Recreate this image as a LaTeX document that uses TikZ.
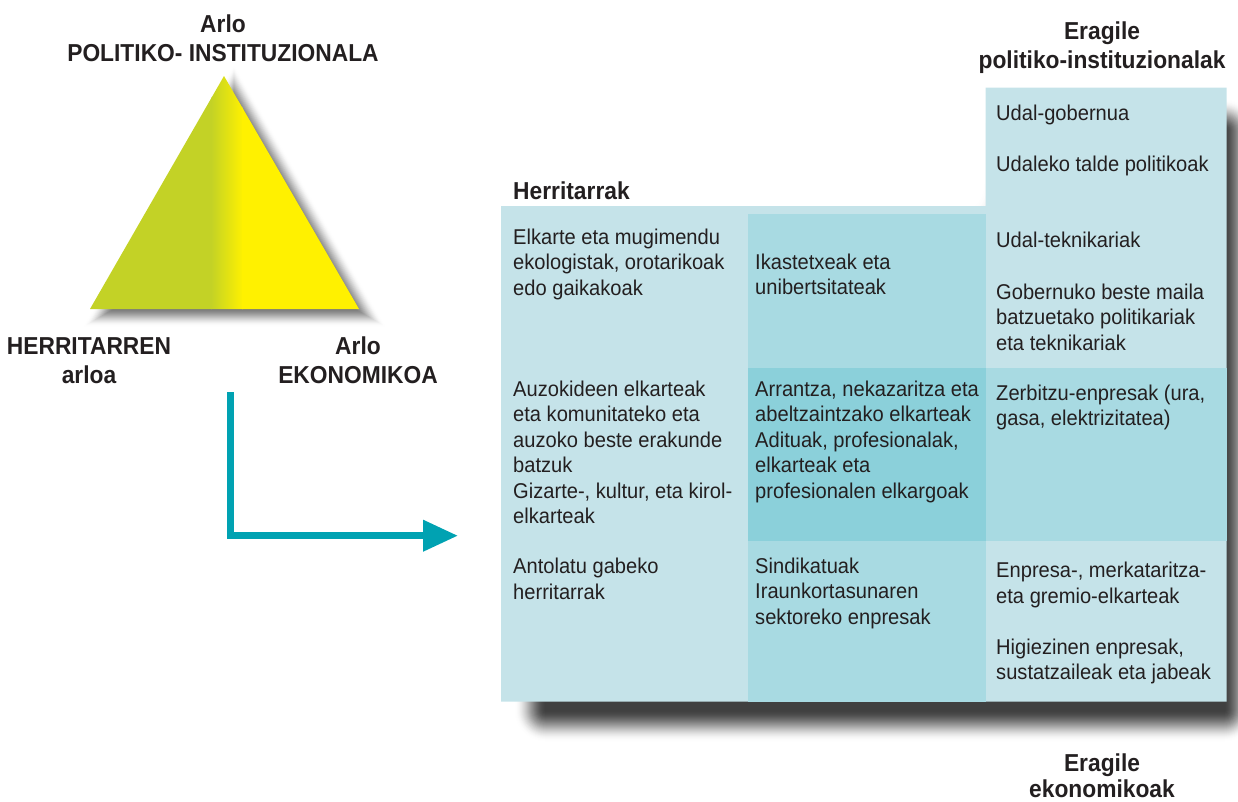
\documentclass[tikz,border=0pt]{standalone}
\usepackage{fontspec}
\setmainfont{Liberation Sans}
\newfontfamily\cellfont[FakeStretch=0.94]{Liberation Sans}
\newfontfamily\headfont[FakeStretch=0.93]{Liberation Sans}
\usetikzlibrary{arrows.meta}
\definecolor{lightc}{RGB}{197,227,233}
\definecolor{midc}{RGB}{168,218,226}
\definecolor{darkc}{RGB}{139,208,218}
\definecolor{olivec}{RGB}{195,210,38}
\definecolor{yellowc}{RGB}{255,241,0}
\definecolor{tealc}{RGB}{0,162,178}
\definecolor{txt}{RGB}{35,31,32}
\tikzset{
  celltext/.style={anchor=north west, inner sep=0pt, align=left, text=txt,
    font=\cellfont\fontsize{21.4}{25.5}\selectfont},
  headlabel/.style={anchor=north, inner sep=0pt, align=center, text=txt,
    font=\headfont\bfseries\fontsize{24.5}{29}\selectfont},
  arrowline/.style={draw=tealc, line width=7pt, -{Triangle[length=35pt,width=30pt]}}
}
\begin{document}
\begin{tikzpicture}[x=1pt,y=-1pt]
\useasboundingbox (0,0) rectangle (1238,801);
% table shadow (soft, layered, smoothstep falloff)
\foreach \sr in {32,31,...,0} {
  \pgfmathsetmacro\st{\sr/32}
  \pgfmathsetmacro\sd{75*(1-(3*\st*\st-2*\st*\st*\st))}
  \fill[black!\sd, rounded corners=\sr pt]
    ({546-\sr},{246-\sr}) -- ({1016-\sr},{246-\sr}) -- ({1016-\sr},{131-\sr})
    -- ({1224+\sr},{131-\sr}) -- ({1224+\sr},{710+\sr}) -- ({546-\sr},{710+\sr}) -- cycle;
}
% triangle shadow (soft, layered, smoothstep falloff)
\foreach \sr in {20,19,...,0} {
  \pgfmathsetmacro\st{\sr/20}
  \pgfmathsetmacro\sd{55*(1-(3*\st*\st-2*\st*\st*\st))}
  \pgfmathsetmacro\sf{(67.7+\sr)/67.7}
  \fill[black!\sd, shift={(234.3,239.3)}, scale=\sf]
    (-0.26,-135.3) -- (-117.0,67.7) -- (117.4,67.7) -- cycle;
}
% table
\fill[lightc] (501,206) -- (985.6,206) -- (985.6,87.5) -- (1226.5,87.5) -- (1226.5,701.7) -- (501,701.7) -- cycle;
\fill[midc] (748,214) rectangle (985.6,701.7);
\fill[darkc] (748,367.5) rectangle (985.6,541);
\fill[midc] (985.6,367.5) rectangle (1226.5,541);
% triangle
\begin{scope}
  \clip (224,76) -- (90,309) -- (359,309) -- cycle;
  \fill[olivec] (88,74) rectangle (212,311);
  \shade[left color=olivec, right color=yellowc] (211,74) rectangle (243,311);
  \fill[yellowc] (242,74) rectangle (361,311);
\end{scope}
% arrow
\coordinate (arrowstart) at (230.7,392);
\coordinate (arrowend) at (458,535.7);
\draw[arrowline] (arrowstart) |- (arrowend);
% labels
\node[headlabel] (arlopol) at (223,15) {Arlo\\POLITIKO- INSTITUZIONALA};
\node[headlabel] (herriarloa) at (89,337) {HERRITARREN\\arloa};
\node[headlabel] (arloeko) at (358,337) {Arlo\\EKONOMIKOA};
\node[headlabel, anchor=north west] (herritarrak) at (513,181.7) {Herritarrak};
\node[headlabel] (eragpol) at (1102,21.7) {Eragile\\politiko-instituzionalak};
\node[headlabel, font=\headfont\bfseries\fontsize{24.5}{26}\selectfont] (eragek) at (1102,754) {Eragile\\ekonomikoak};
% cell texts
\node[celltext] (c11) at (513,228.5) {Elkarte eta mugimendu\\ekologistak, orotarikoak\\edo gaikakoak};
\node[celltext] (c21) at (513,380.5) {Auzokideen elkarteak\\eta komunitateko eta\\auzoko beste erakunde\\batzuk\\Gizarte-, kultur, eta kirol-\\elkarteak};
\node[celltext] (c31) at (513,557.8) {Antolatu gabeko\\herritarrak};
\node[celltext] (c12) at (755,253.5) {Ikastetxeak eta\\unibertsitateak};
\node[celltext] (c22) at (755,380.5) {Arrantza, nekazaritza eta\\abeltzaintzako elkarteak\\Adituak, profesionalak,\\elkarteak eta\\profesionalen elkargoak};
\node[celltext] (c32) at (755,557.5) {Sindikatuak\\Iraunkortasunaren\\sektoreko enpresak};
\node[celltext] (c13a) at (996,105.2) {Udal-gobernua};
\node[celltext] (c13b) at (996,156.2) {Udaleko talde politikoak};
\node[celltext] (c13c) at (996,231.8) {Udal-teknikariak};
\node[celltext] (c13d) at (996,283.5) {Gobernuko beste maila\\batzuetako politikariak\\eta teknikariak};
\node[celltext] (c23) at (996,384.5) {Zerbitzu-enpresak (ura,\\gasa, elektrizitatea)};
\node[celltext] (c33a) at (996,561.8) {Enpresa-, merkataritza-\\eta gremio-elkarteak};
\node[celltext] (c33b) at (996,638.5) {Higiezinen enpresak,\\sustatzaileak eta jabeak};
\end{tikzpicture}
\end{document}
